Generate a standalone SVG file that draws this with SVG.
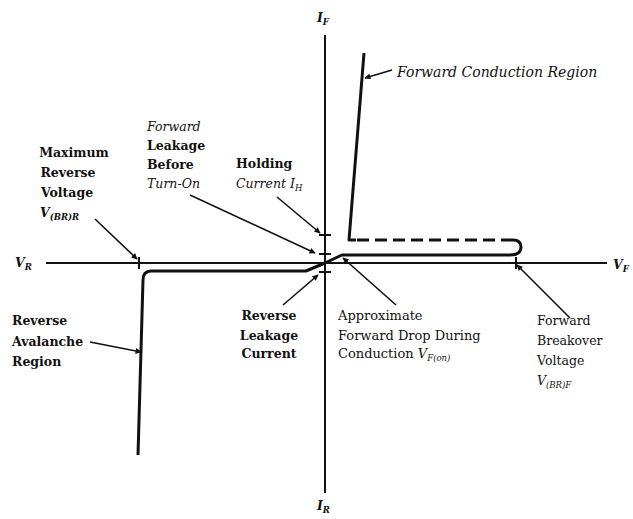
<svg xmlns="http://www.w3.org/2000/svg" width="633" height="519" viewBox="0 0 633 519">
<style>
.t{font-family:"DejaVu Serif","Liberation Serif",serif;font-size:12.5px;fill:#111}
.b{font-weight:bold}
.i{font-style:italic}
.s{font-size:8.5px}
.ax{stroke:#111;stroke-width:2;fill:none}
.cv{stroke:#111;stroke-width:3;fill:none;stroke-linejoin:round}
.ld{stroke:#111;stroke-width:1.6;fill:none;marker-end:url(#ah)}
</style>
<defs>
<marker id="ah" viewBox="0 0 10 10" refX="9" refY="5" markerWidth="7" markerHeight="6" orient="auto" markerUnits="userSpaceOnUse">
<path d="M0,0 L10,5 L0,10 z" fill="#111"/>
</marker>
</defs>
<rect width="633" height="519" fill="#fff"/>
<g id="axes">
<line class="ax" x1="325" y1="35" x2="325" y2="493"/>
<line class="ax" x1="46" y1="263" x2="607" y2="263"/>
<line class="ax" x1="139" y1="257" x2="139" y2="269"/>
<line class="ax" x1="516" y1="257" x2="516" y2="269"/>
<line class="ax" x1="319" y1="235" x2="331" y2="235"/>
<line class="ax" x1="319" y1="254" x2="331" y2="254"/>
<line class="ax" x1="319" y1="272" x2="331" y2="272"/>
<text class="t i b" x="317" y="22">I<tspan class="s" dy="3">F</tspan></text>
<text class="t i b" x="317" y="510">I<tspan class="s" dy="3">R</tspan></text>
<text class="t i b" x="15" y="267">V<tspan class="s" dy="3">R</tspan></text>
<text class="t i b" x="613" y="269">V<tspan class="s" dy="3">F</tspan></text>
</g>
<g id="curve">
<path class="cv" d="M325,263 L342,255 L510,255 Q521,255 521,247 Q521,240 513,240"/>
<path class="cv" d="M513,240 L354,240" stroke-dasharray="12,6"/>
<path class="cv" d="M356,240 L349,240 L364,53"/>
<path class="cv" d="M325,263 L306,271 L151,271 Q143,271 143,280 L138,455"/>
</g>
<g id="connectors">
<line class="ld" x1="95" y1="219" x2="137" y2="259"/>
<line class="ld" x1="190" y1="195" x2="315" y2="253"/>
<line class="ld" x1="277" y1="197" x2="320" y2="233"/>
<line class="ld" x1="392" y1="70" x2="365" y2="78"/>
<line class="ld" x1="90" y1="342" x2="141" y2="352"/>
<line class="ld" x1="283" y1="305" x2="318" y2="275"/>
<line class="ld" x1="396" y1="305" x2="343" y2="258"/>
<line class="ld" x1="570" y1="318" x2="517" y2="265"/>
</g>
<g id="max-reverse-voltage">
<text class="t b" x="74" y="157" text-anchor="middle">Maximum</text>
<text class="t b" x="68" y="177" text-anchor="middle">Reverse</text>
<text class="t b" x="67" y="197" text-anchor="middle">Voltage</text>
<text class="t b i" x="40" y="217">V<tspan class="s" dy="3">(BR)R</tspan></text>
</g>
<g id="forward-leakage">
<text class="t i" x="147" y="131">Forward</text>
<text class="t b" x="147" y="150">Leakage</text>
<text class="t b" x="147" y="169">Before</text>
<text class="t i" x="147" y="188">Turn-On</text>
</g>
<g id="holding-current">
<text class="t b" x="236" y="168">Holding</text>
<text class="t i" x="236" y="188">Current I<tspan class="s" dy="3">H</tspan></text>
</g>
<g id="forward-conduction">
<text class="t i" x="397" y="77" style="font-size:14px">Forward Conduction Region</text>
</g>
<g id="reverse-avalanche">
<text class="t b" x="12" y="325">Reverse</text>
<text class="t b" x="12" y="346">Avalanche</text>
<text class="t b" x="12" y="366">Region</text>
</g>
<g id="reverse-leakage">
<text class="t b" x="269" y="320" text-anchor="middle">Reverse</text>
<text class="t b" x="269" y="340" text-anchor="middle">Leakage</text>
<text class="t b" x="269" y="358" text-anchor="middle">Current</text>
</g>
<g id="forward-drop">
<text class="t" x="338" y="320" style="font-size:13px">Approximate</text>
<text class="t" x="338" y="340" style="font-size:13px">Forward Drop During</text>
<text class="t" x="338" y="358" style="font-size:13px">Conduction <tspan class="i">V</tspan><tspan class="s i" dy="3">F(on)</tspan></text>
</g>
<g id="forward-breakover">
<text class="t" x="537" y="325">Forward</text>
<text class="t" x="537" y="345">Breakover</text>
<text class="t" x="537" y="365">Voltage</text>
<text class="t i" x="537" y="385">V<tspan class="s" dy="3">(BR)F</tspan></text>
</g>
</svg>
